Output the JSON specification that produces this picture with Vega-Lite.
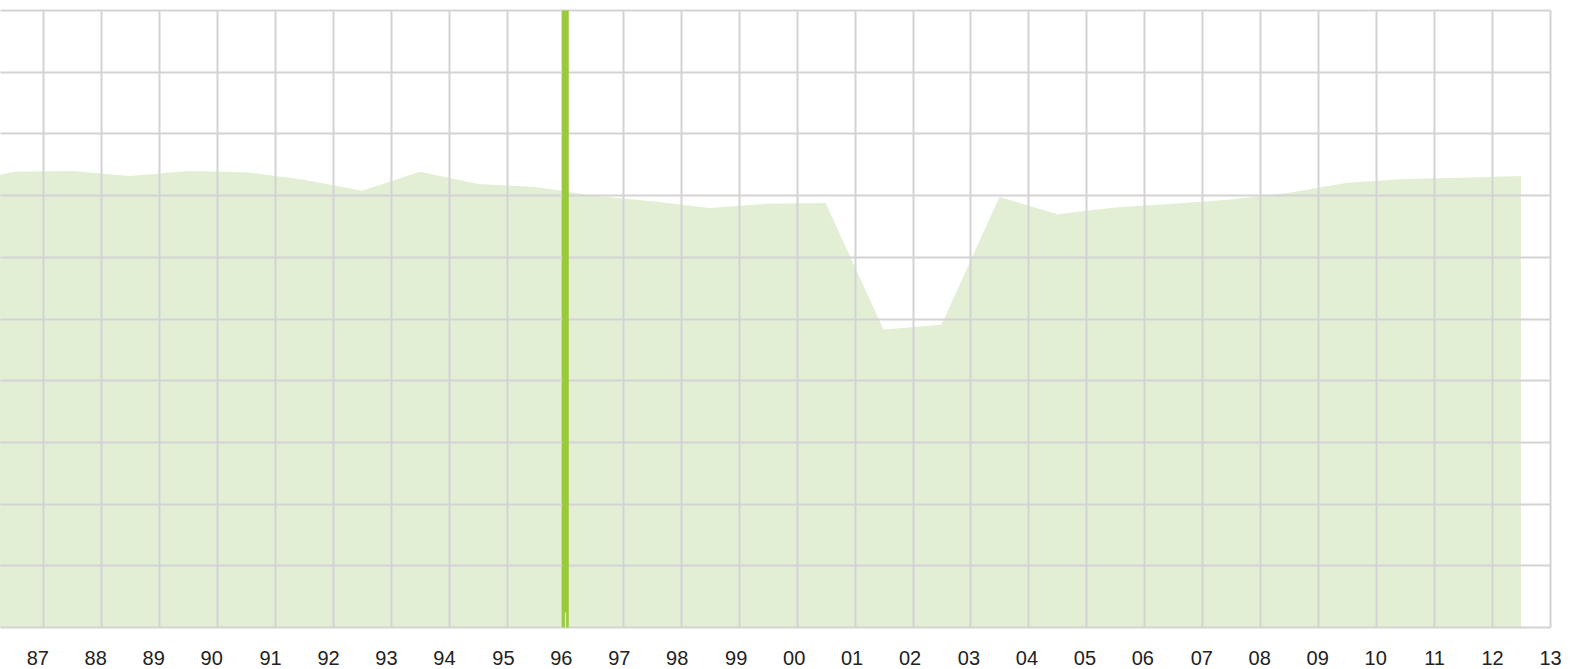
{
  "$schema": "https://vega.github.io/schema/vega-lite/v6.json",
  "autosize": {"type": "none"},
  "padding": {"left": 0, "top": 10, "right": 29, "bottom": 42},
  "width": 1550,
  "height": 617,
  "background": "white",
  "config": {"view": {"stroke": null}},
  "datasets": {
    "series": [
      {"year": 1985.5, "value": 71.7},
      {"year": 1986.5, "value": 73.8},
      {"year": 1987.5, "value": 73.9},
      {"year": 1988.5, "value": 73.1},
      {"year": 1989.5, "value": 73.9},
      {"year": 1990.5, "value": 73.7},
      {"year": 1991.5, "value": 72.5},
      {"year": 1992.5, "value": 70.7},
      {"year": 1993.5, "value": 73.8},
      {"year": 1994.5, "value": 71.8},
      {"year": 1995.5, "value": 71.3},
      {"year": 1996.5, "value": 69.9},
      {"year": 1997.5, "value": 69.0},
      {"year": 1998.5, "value": 67.9},
      {"year": 1999.5, "value": 68.6},
      {"year": 2000.5, "value": 68.7},
      {"year": 2001.5, "value": 48.2},
      {"year": 2002.5, "value": 49.0},
      {"year": 2003.5, "value": 69.7},
      {"year": 2004.5, "value": 66.9},
      {"year": 2005.5, "value": 68.0},
      {"year": 2006.5, "value": 68.6},
      {"year": 2007.5, "value": 69.3},
      {"year": 2008.5, "value": 70.4},
      {"year": 2009.5, "value": 72.0},
      {"year": 2010.5, "value": 72.6},
      {"year": 2011.5, "value": 72.8},
      {"year": 2012.5, "value": 73.1}
    ],
    "marker": [{"year": 1996}]
  },
  "layer": [
    {
      "data": {"name": "series"},
      "mark": {"type": "area", "color": "#e2efd5", "clip": true, "opacity": 1},
      "encoding": {
        "x": {
          "field": "year",
          "type": "quantitative",
          "scale": {"domain": [1986.253, 2013], "nice": false, "zero": false},
          "axis": {
            "values": [1987,1988,1989,1990,1991,1992,1993,1994,1995,1996,1997,1998,1999,2000,2001,2002,2003,2004,2005,2006,2007,2008,2009,2010,2011,2012,2013],
            "labelExpr": "substring(toString(datum.value), 2, 4)",
            "title": null,
            "domain": false,
            "ticks": true,
            "tickSize": -15,
            "tickWidth": 1.3,
            "tickColor": {"condition": {"test": "datum.value === 1996", "value": "#e2efd5"}, "value": "transparent"},
            "grid": true,
            "gridColor": {"condition": {"test": "datum.value === 1996", "value": "#9bc93c"}, "value": "#d3d3d3"},
            "gridWidth": {"condition": {"test": "datum.value === 1996", "value": 6.5}, "value": 2},
            "gridOpacity": 1,
            "labelFont": "Liberation Sans",
            "labelFontSize": 20,
            "labelColor": "#222222",
            "labelPadding": 36,
            "labelOffset": {
              "condition": [
                {"test": "datum.value < 1991", "value": -6},
                {"test": "datum.value < 1995", "value": -5},
                {"test": "datum.value < 1999", "value": -4},
                {"test": "datum.value < 2003", "value": -3},
                {"test": "datum.value < 2007", "value": -2},
                {"test": "datum.value < 2011", "value": -1}
              ],
              "value": 0
            },
            "labelFlush": false,
            "labelOverlap": false,
            "zindex": 2
          }
        },
        "y": {
          "field": "value",
          "type": "quantitative",
          "scale": {"domain": [0, 100], "nice": false},
          "axis": {
            "values": [0,10,20,30,40,50,60,70,80,90,100],
            "title": null,
            "labels": false,
            "ticks": false,
            "domain": false,
            "grid": true,
            "gridColor": "#d3d3d3",
            "gridWidth": 2,
            "gridOpacity": 1,
            "zindex": 1
          }
        }
      }
    },
    {
      "data": {"name": "marker"},
      "mark": {"type": "rule", "color": "#9bc93c", "strokeWidth": 6.5},
      "encoding": {
        "x": {"field": "year", "type": "quantitative"}
      }
    }
  ]
}
